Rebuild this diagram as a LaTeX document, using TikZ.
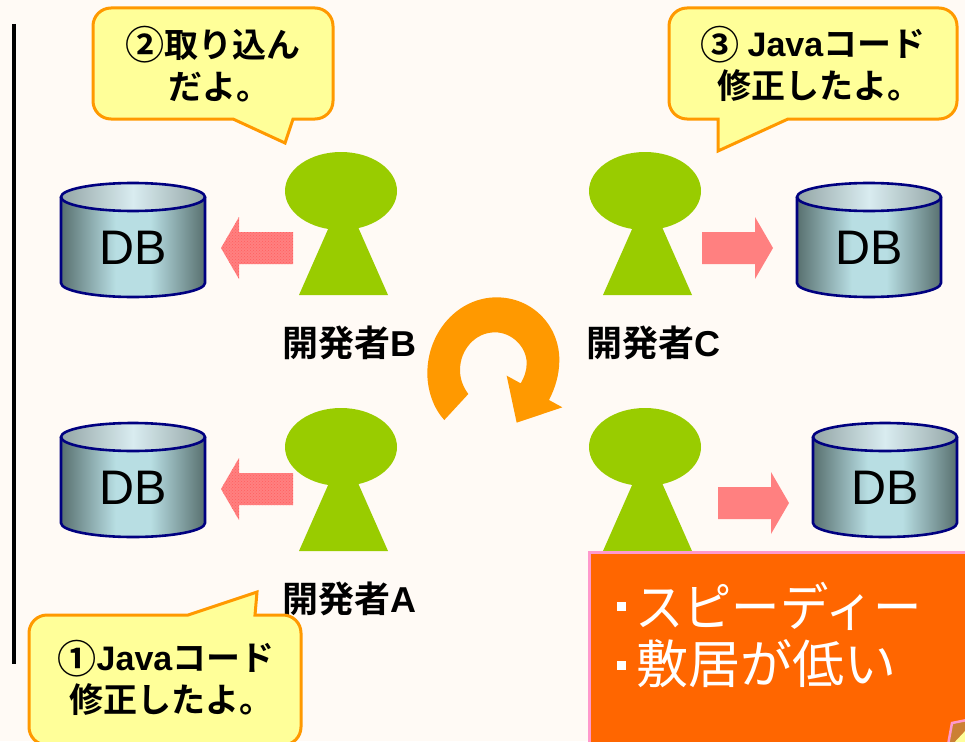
\documentclass[tikz,border=0pt]{standalone}
\usepackage{fontspec}
\setmainfont{Liberation Sans}
\newfontfamily\jpbold{Noto Sans CJK JP Bold}
\newfontfamily\jpreg{Noto Sans CJK JP}
\newcommand{\lat}[1]{{\normalfont\bfseries #1}}
\newcommand{\circd}[1]{\raisebox{-0.07em}{\scalebox{1.15}{#1}}}
\usetikzlibrary{shapes.geometric,calc,patterns}
\definecolor{bgc}{HTML}{FFFAF5}
\definecolor{grn}{HTML}{99CC00}
\definecolor{org}{HTML}{FF9900}
\definecolor{yel}{HTML}{FFFF99}
\definecolor{pnk}{HTML}{FF8080}
\definecolor{pnkd}{HTML}{FF6060}
\definecolor{navy2}{HTML}{000080}
\definecolor{bodyd}{HTML}{58706F}
\definecolor{bodyl}{HTML}{B8DEE3}
\definecolor{topd}{HTML}{94A6A6}
\definecolor{topl}{HTML}{D9ECF0}
\definecolor{boxo}{HTML}{FF6600}
\definecolor{boxp}{HTML}{FF99CC}
\pgfdeclarehorizontalshading{dbbody}{100bp}{color(0bp)=(bodyd); color(25bp)=(bodyd); color(44bp)=(bodyl); color(56bp)=(bodyl); color(75bp)=(bodyd); color(100bp)=(bodyd)}
\pgfdeclarehorizontalshading{dbtop}{100bp}{color(0bp)=(topd); color(25bp)=(topd); color(50bp)=(topl); color(75bp)=(topd); color(100bp)=(topd)}
\tikzset{
  x=1pt,y=-1pt,
  headshape/.style={ellipse,fill=grn,inner sep=0pt,minimum width=112pt,minimum height=78pt},
  callout/.style={draw=org,line width=3pt,fill=yel,line join=miter},
  ctext/.style={font=\fontsize{34}{42}\selectfont\jpbold,align=center,text=black,inner sep=0pt},
  nametext/.style={font=\fontsize{36}{38}\selectfont\jpbold,text=black,inner sep=0pt},
  dbtext/.style={font=\fontsize{48.5}{48}\selectfont,text=black,inner sep=0pt},
  boxtext/.style={font=\fontsize{52}{52}\selectfont\jpreg,text=white,inner sep=0pt,anchor=west},
  pics/person/.style={code={
    \fill[grn] (-42,104) -- (47,104) -- (17,36) -- (-12,36) -- cycle;
    \node[headshape] (#1) at (0,0) {};
  }},
  pics/dbcyl/.style={code={
    \shade[shading=dbbody] (-72,-53) -- (-72,33) arc[start angle=180,end angle=0,x radius=72,y radius=14] -- (72,-53) arc[start angle=0,end angle=180,x radius=72,y radius=14] -- cycle;
    \shade[shading=dbtop] (0,-53) ellipse [x radius=72,y radius=14];
    \draw[navy2,line width=2.6pt] (-72,-53) -- (-72,33) arc[start angle=180,end angle=0,x radius=72,y radius=14] -- (72,-53);
    \draw[navy2,line width=2.6pt] (0,-53) ellipse [x radius=72,y radius=14];
    \node[dbtext] (#1) at (0,-2) {DB};
  }},
  pics/leftblock/.style={code={
    \fill[pnk] (0,0) -- (18,-31) -- (18,-16) -- (72,-16) -- (72,16) -- (18,16) -- (18,31) -- cycle;
    \fill[pattern=crosshatch dots,pattern color=pnkd] (0,0) -- (18,-31) -- (18,-16) -- (72,-16) -- (72,16) -- (18,16) -- (18,31) -- cycle;
  }},
  pics/rightblock/.style={code={
    \fill[pnk] (0,0) -- (-18,-31) -- (-18,-16) -- (-71,-16) -- (-71,16) -- (-18,16) -- (-18,31) -- cycle;
  }},
}
\begin{document}
\begin{tikzpicture}
\useasboundingbox (0,0) rectangle (965,741);
\fill[bgc] (0,0) rectangle (965,741);
\coordinate (ruleT) at (14,24);
\coordinate (ruleB) at (14,664);
\draw[black,line width=3.4pt] (ruleT) -- (ruleB);

% databases
\pic at (133,250) {dbcyl=dbB};
\pic at (869,250) {dbcyl=dbC};
\pic at (133,490) {dbcyl=dbA};
\pic at (885,490) {dbcyl=dbD};

% block arrows
\pic at (221,248) {leftblock};
\pic at (221,489) {leftblock};
\pic at (773,248) {rightblock};
\pic at (789,503) {rightblock};

% people
\pic at (341,191) {person=pB};
\pic at (645,191) {person=pC};
\pic at (341,447) {person=pA};
\pic at (645,447) {person=pD};

% names
\node[nametext,anchor=west] (nB) at (282,343) {開発者\lat{B}};
\node[nametext,anchor=west] (nC) at (586,343) {開発者\lat{C}};
\node[nametext,anchor=west] (nA) at (282,599) {開発者\lat{A}};

% cycle arrow
\begin{scope}[shift={(400,280)},scale=1/3]
\fill[org] (133,420) .. controls (100,385) and (82,330) .. (82,280)
  .. controls (82,155) and (175,52) .. (290,52)
  .. controls (395,52) and (478,135) .. (478,240)
  .. controls (478,285) and (465,325) .. (447,360)
  -- (487,382) -- (350,428) -- (320,287) -- (362,310)
  .. controls (373,292) and (380,272) .. (380,250)
  .. controls (380,200) and (335,157) .. (285,157)
  .. controls (225,157) and (180,210) .. (180,270)
  .. controls (180,298) and (190,322) .. (205,342)
  -- cycle;
\end{scope}

% callouts
\draw[callout] (233,119) -- (285,143) -- (293,119) [rounded corners=18pt] -- (333,119) -- (333,8) -- (93,8) -- (93,119) [sharp corners] -- cycle;
\node[ctext] (c2) at (213,64) {\circd{②}取り込ん\\\hspace*{12pt}だよ。};

\draw[callout] (718,151) -- (788,119) [rounded corners=18pt] -- (957,119) -- (957,8) -- (669,8) -- (669,119) [sharp corners] -- (718,119) -- cycle;
\node[ctext] (c3) at (813,64) {\circd{③} \lat{Java}コード\\\hspace*{12pt}修正したよ。};

\draw[callout] (188,615) -- (257,592) -- (255,615) [rounded corners=18pt] -- (301,615) -- (301,745) -- (29,745) -- (29,615) [sharp corners] -- cycle;
\node[ctext] (c1) at (166,678) {\circd{①}\lat{Java}コード\\\hspace*{10pt}修正したよ。};

% orange box
\node[draw=boxp,line width=3pt,fill=boxo,anchor=north west,outer sep=0pt,minimum width=400pt,minimum height=210pt,inner sep=0pt] (box) at (589.5,552) {};
\node[boxtext] (b1) at (635,606) {\scalebox{0.93}[1]{スピーディー}};
\node[boxtext] (b2) at (636,664) {敷居が低い};
\fill[white] (617,602) rectangle (626,611);
\fill[white] (617,661) rectangle (626,670);

% corner fragment
\draw[boxp,line width=2.5pt,fill=brown!80!orange] (952,723) -- (967,720) -- (967,745) -- (948,745) -- cycle;
\fill[yel] (952,745) -- (967,729) -- (967,745) -- cycle;
\end{tikzpicture}
\end{document}
